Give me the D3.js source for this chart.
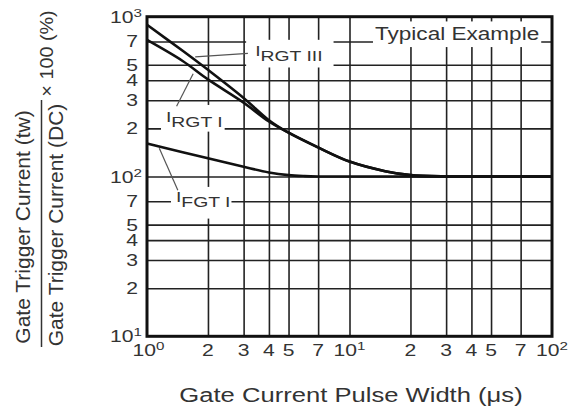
<!DOCTYPE html>
<html>
<head>
<meta charset="utf-8">
<script src="https://cdn.jsdelivr.net/npm/d3@7/dist/d3.min.js"></script>
<style>
  body { margin: 0; background: #fff; }
  svg { display: block; }
  text { font-family: "Liberation Sans", Arial, sans-serif; fill: #333; }
</style>
</head>
<body>
<div id="chart"></div>
<script>
// Gate trigger current vs pulse width (log-log)

const width = 585,
    height = 410,
    margin = ({ top: 16.7, right: 33, bottom: 73.7, left: 147 });

// data
const pulseWidth = [1, 1.5, 2, 3, 4, 5, 7, 10, 15, 20, 30, 50, 100];
const irgtIII = [890, 612, 465, 310, 225, 188, 152, 124, 108, 102, 100, 100, 100];
const irgtI = [715, 528, 405, 290, 221, 188, 152, 124, 108, 102, 100, 100, 100];
const ifgtPulse = [1, 1.5, 2, 3, 4, 5, 6, 7, 10, 100];
const ifgtI = [161, 142, 130, 115, 106, 102, 100.6, 100.1, 100, 100];

// ticks
const xTicks = [1, 2, 3, 4, 5, 7, 10, 20, 30, 40, 50, 70, 100];
const xTickLabels = ["10^0", "2", "3", "4", "5", "7", "10^1", "2", "3", "4", "5", "7", "10^2"];
const yTicks = [10, 20, 30, 40, 50, 70, 100, 200, 300, 400, 500, 700, 1000];
const yTickLabels = ["10^1", "2", "3", "4", "5", "7", "10^2", "2", "3", "4", "5", "7", "10^3"];

// curve labels: name, label anchor (x, value), leader from -> to, box padding [l,t,r,b]
const curveLabels = ["I_RGT III", "I_RGT I", "I_FGT I"];
const labelAnchors = [[3.42, 568], [1.241, 219], [1.39, 69.2]];
const leaderFrom = [[3.15, 590], [1.40, 275], [1.42, 82]];
const leaderTo = [[1.73, 560], [1.69, 440], [1.15, 150]];
const labelPads = [[9, 2, 11, 3], [5, 3, 2, 1], [5, 1, 1, 8]];

const svg = d3.select("#chart")
    .append("svg")
    .attr("width", width)
    .attr("height", height);

let x = d3.scaleLog()
    .domain([1, 100])
    .range([margin.left, width - margin.right]);

let y = d3.scaleLog()
    .domain([10, 1000])
    .range([height - margin.bottom, margin.top]);

const plotW = width - margin.left - margin.right,
    plotH = height - margin.top - margin.bottom;

// grid lines
svg.append("g")
    .attr("class", "x-grid")
    .attr("transform", `translate(0,${height - margin.bottom})`)
    .call(d3.axisBottom(x).tickValues(xTicks.slice(1, -1)).tickSize(-plotH).tickFormat(""))
    .call(g => g.select(".domain").remove());

svg.append("g")
    .attr("class", "y-grid")
    .attr("transform", `translate(${margin.left},0)`)
    .call(d3.axisLeft(y).tickValues(yTicks.slice(1, -1)).tickSize(-plotW).tickFormat(""))
    .call(g => g.select(".domain").remove());

svg.selectAll(".x-grid line, .y-grid line")
    .attr("stroke", "#222")
    .attr("stroke-width", 1.6);

// text helper: stretched text with optional sup/sub parts
function addText(parent, px, py, opts, parts) {
    const g = parent.append("g")
        .attr("transform", `translate(${px},${py}) rotate(${opts.rotate || 0}) scale(${opts.sx || 1},1)`);
    const t = g.append("text")
        .attr("text-anchor", opts.anchor || "start")
        .attr("font-size", opts.size);
    parts.forEach(p => {
        t.append("tspan")
            .attr("dy", p.dy || 0)
            .attr("font-size", p.size || opts.size)
            .text(p.t);
    });
    return t;
}

function tickParts(s) {
    if (s.startsWith("10^")) return [{ t: "10" }, { t: s.slice(3), dy: -6, size: 11.5 }];
    return [{ t: s }];
}

// tick labels
xTicks.forEach((v, i) => {
    addText(svg, x(v) + (i === 0 ? 1.5 : 0), height - margin.bottom + 20,
        { anchor: "middle", size: 16, sx: 1.32 }, tickParts(xTickLabels[i]));
});
yTicks.forEach((v, i) => {
    const pow = yTickLabels[i].startsWith("10^");
    addText(svg, margin.left - (pow ? 5 : 9), y(v) + 6,
        { anchor: "end", size: 16, sx: 1.32 }, tickParts(yTickLabels[i]));
});

// white boxes behind annotation labels
const boxLayer = svg.append("g");
const labelLayer = svg.append("g");

function boxed(textSel, pad) {
    const r = textSel.node().getBoundingClientRect();
    boxLayer.append("rect")
        .attr("x", r.left - pad[0])
        .attr("y", r.top - pad[1])
        .attr("width", r.width + pad[0] + pad[2])
        .attr("height", r.height + pad[1] + pad[3])
        .attr("fill", "#fff");
}

curveLabels.forEach((name, i) => {
    const [main, sub] = name.split("_");
    const t = addText(labelLayer, x(labelAnchors[i][0]), y(labelAnchors[i][1]),
        { size: 15.5, sx: 1.25 },
        [{ t: main }, { t: sub, dy: 5 }]);
    boxed(t, labelPads[i]);
});

const typical = addText(labelLayer, x(13.36), y(710), { size: 18.5, sx: 1.22 }, [{ t: "Typical Example" }]);
boxed(typical, [2, 2, 2, 3]);

// leader lines
svg.append("g")
    .selectAll("line")
    .data(curveLabels)
    .join("line")
    .attr("x1", (d, i) => x(leaderFrom[i][0]))
    .attr("y1", (d, i) => y(leaderFrom[i][1]))
    .attr("x2", (d, i) => x(leaderTo[i][0]))
    .attr("y2", (d, i) => y(leaderTo[i][1]))
    .attr("stroke", "#555")
    .attr("stroke-width", 1.2);

// curves
let line = d3.line()
    .x(d => x(d[0]))
    .y(d => y(d[1]))
    .curve(d3.curveCatmullRom.alpha(0.5));

[[pulseWidth, irgtIII], [pulseWidth, irgtI], [ifgtPulse, ifgtI]].forEach(([xs, series]) => {
    svg.append("path")
        .datum(xs.map((p, i) => [p, series[i]]))
        .attr("d", line)
        .attr("fill", "none")
        .attr("stroke", "#111")
        .attr("stroke-width", 2.6);
});

// frame
svg.append("rect")
    .attr("x", margin.left)
    .attr("y", margin.top)
    .attr("width", plotW)
    .attr("height", plotH)
    .attr("fill", "none")
    .attr("stroke", "#111")
    .attr("stroke-width", 3);

// x axis title
addText(svg, 351, 402, { anchor: "middle", size: 20, sx: 1.28 }, [{ t: "Gate Current Pulse Width  (\u03bcs)" }]);

// y axis title (fraction)
addText(svg, 29.5, 227, { anchor: "middle", size: 20, sx: 1.05, rotate: -90 }, [{ t: "Gate Trigger Current  (tw)" }]);
addText(svg, 62.5, 225, { anchor: "middle", size: 20, sx: 1.05, rotate: -90 }, [{ t: "Gate Trigger Current  (DC)" }]);
svg.append("line")
    .attr("x1", 41.5).attr("x2", 41.5)
    .attr("y1", 100).attr("y2", 347)
    .attr("stroke", "#333")
    .attr("stroke-width", 1.5);
addText(svg, 53, 53.5, { anchor: "middle", size: 18, sx: 1.1, rotate: -90 }, [{ t: "\u00d7 100 (%)" }]);
</script>
</body>
</html>
